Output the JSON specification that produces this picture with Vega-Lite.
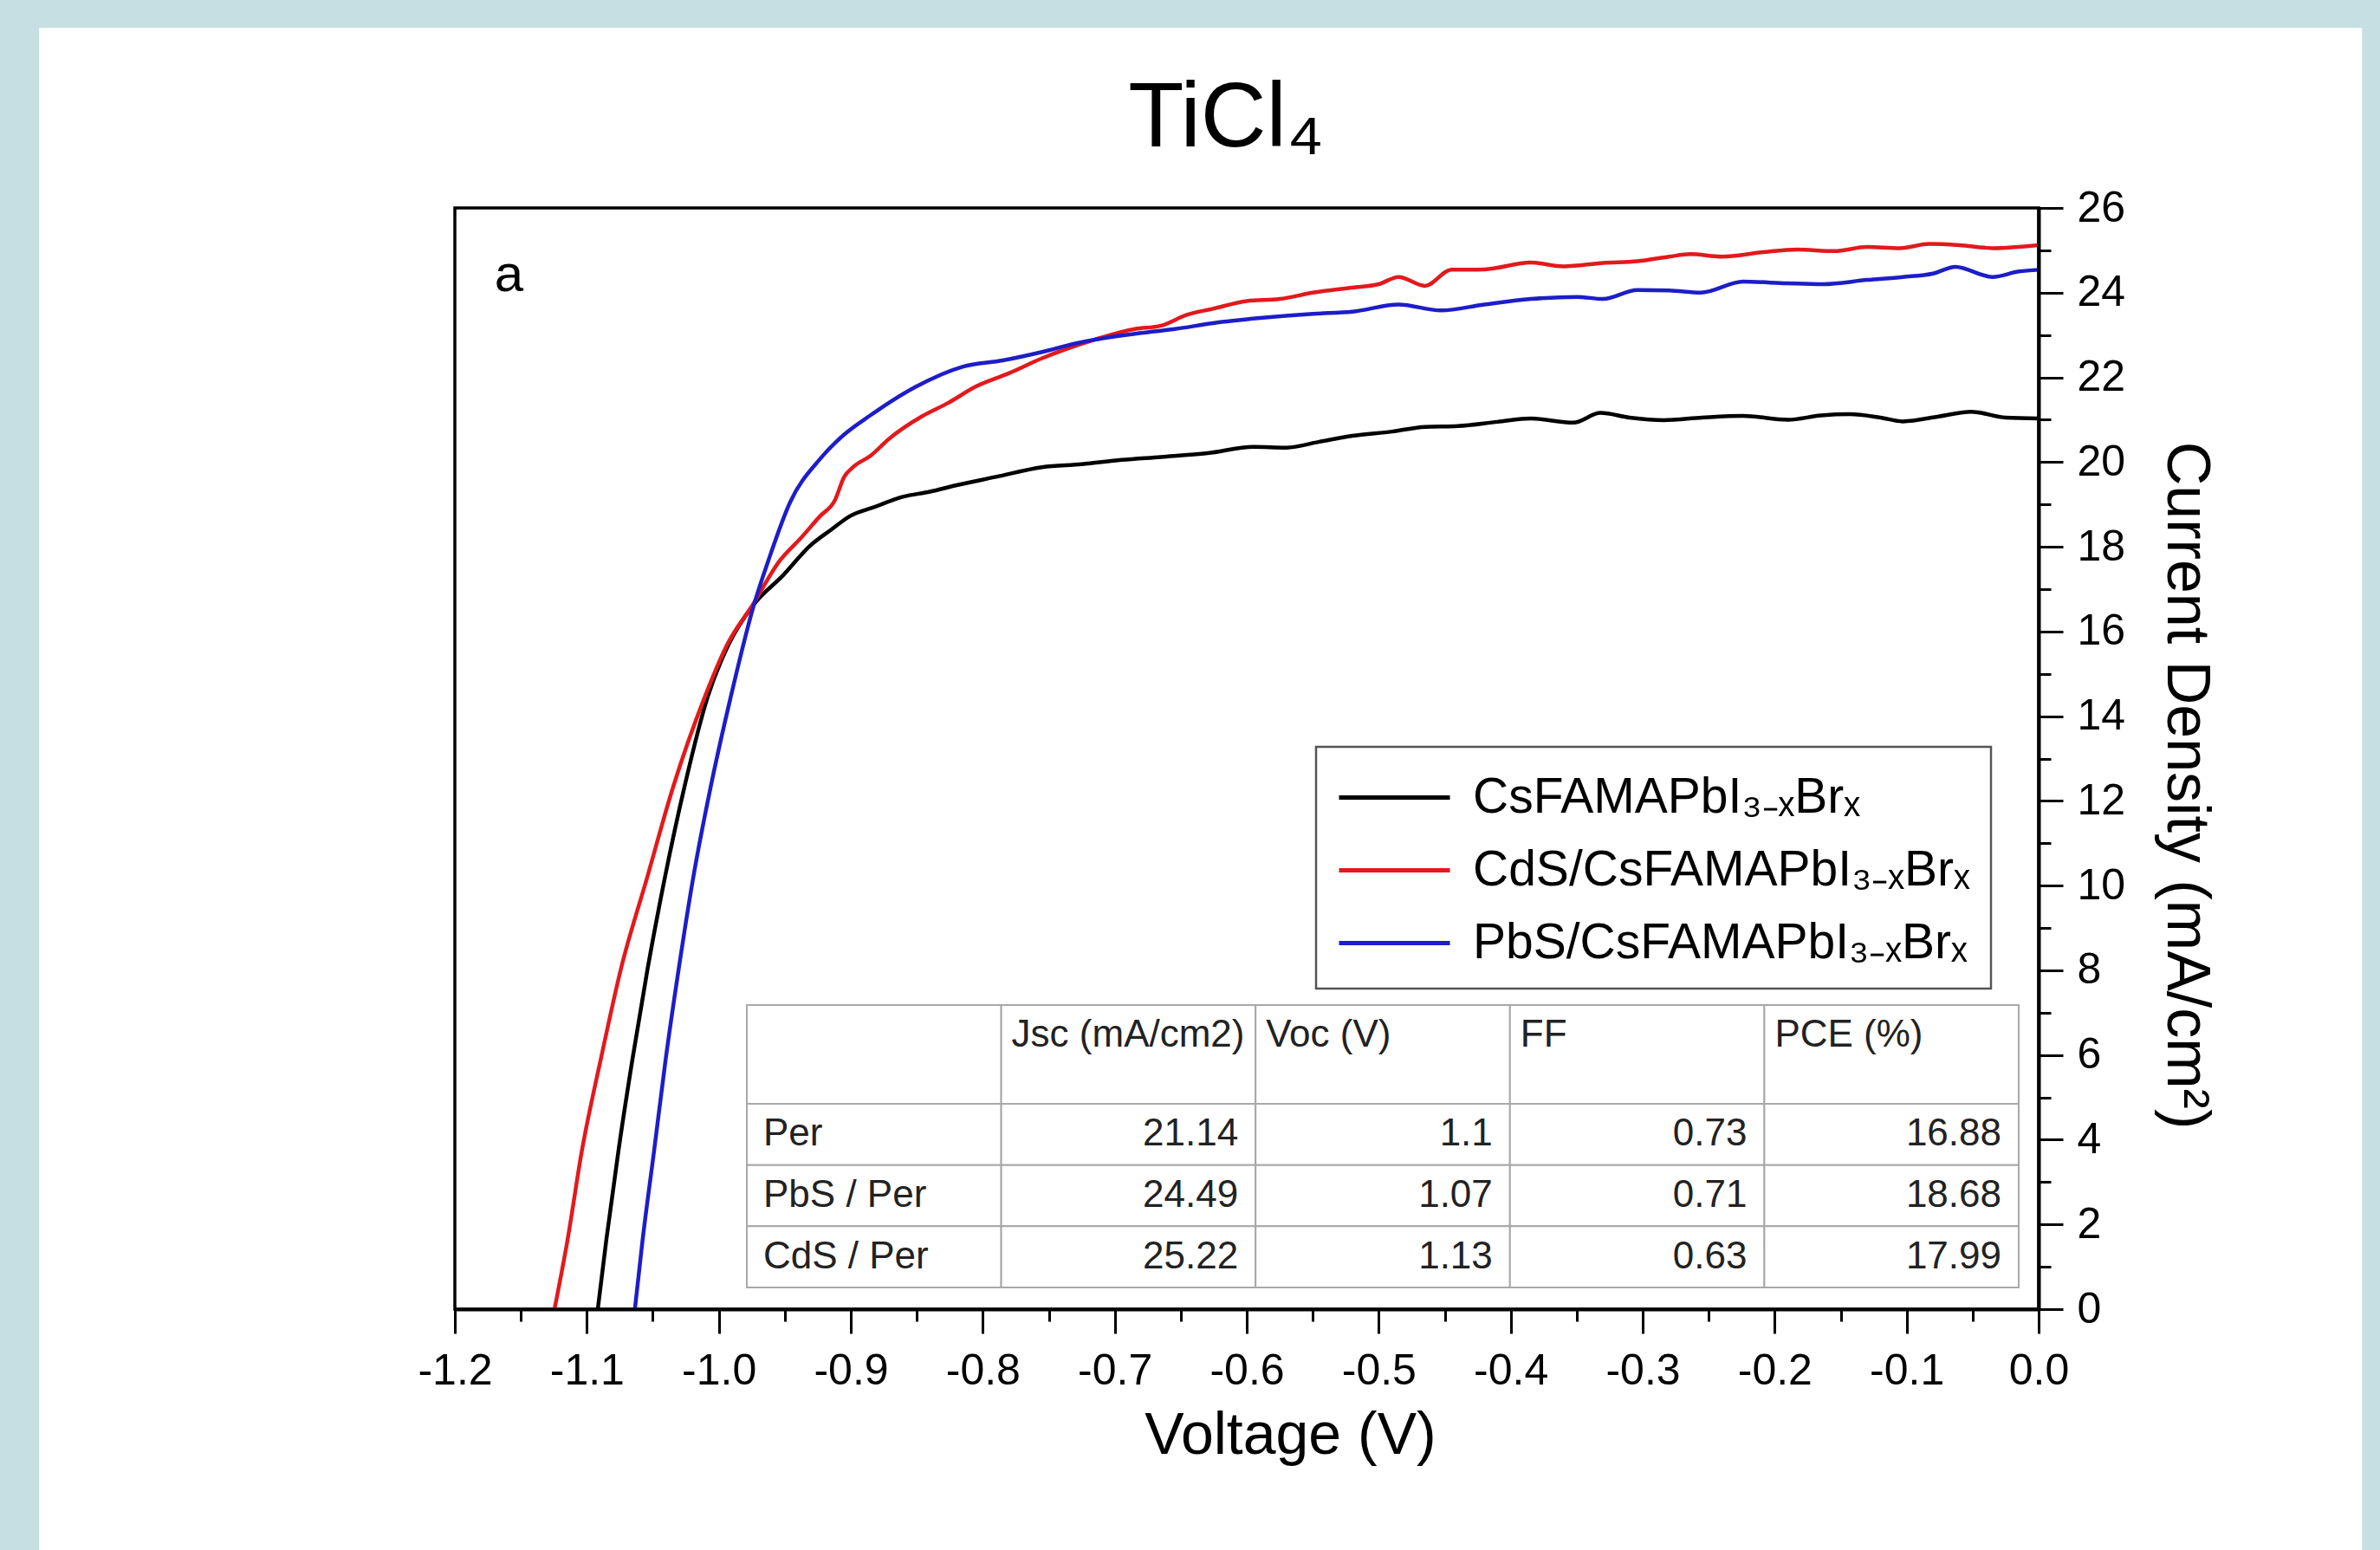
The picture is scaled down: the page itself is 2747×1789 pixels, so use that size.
{
  "$schema": "https://vega.github.io/schema/vega-lite/v6.json",
  "width": 1828,
  "height": 1271,
  "autosize": {"type": "none"},
  "padding": {"left": 525, "top": 240, "right": 394, "bottom": 278},
  "background": "#c6dfe2",
  "config": {"font": "Liberation Sans", "view": {"stroke": null}, "legend": {"strokeWidth": 2.5}},
  "title": {"text": "TiCl₄", "fontSize": 105, "font": "Liberation Sans", "fontWeight": "normal", "color": "black", "anchor": "middle", "frame": "group", "baseline": "alphabetic", "offset": -242, "dx": -24},
  "datasets": {
    "jv": [
      {"series": "CsFAMAPbI₃₋ₓBrₓ", "voltage": -1.0917, "current": 0},
      {"series": "CsFAMAPbI₃₋ₓBrₓ", "voltage": -1.0853, "current": 1.62},
      {"series": "CsFAMAPbI₃₋ₓBrₓ", "voltage": -1.076, "current": 3.75},
      {"series": "CsFAMAPbI₃₋ₓBrₓ", "voltage": -1.0655, "current": 5.89},
      {"series": "CsFAMAPbI₃₋ₓBrₓ", "voltage": -1.054, "current": 8.03},
      {"series": "CsFAMAPbI₃₋ₓBrₓ", "voltage": -1.041, "current": 10.17},
      {"series": "CsFAMAPbI₃₋ₓBrₓ", "voltage": -1.0262, "current": 12.31},
      {"series": "CsFAMAPbI₃₋ₓBrₓ", "voltage": -1.0085, "current": 14.45},
      {"series": "CsFAMAPbI₃₋ₓBrₓ", "voltage": -0.9925, "current": 15.7},
      {"series": "CsFAMAPbI₃₋ₓBrₓ", "voltage": -0.974, "current": 16.62},
      {"series": "CsFAMAPbI₃₋ₓBrₓ", "voltage": -0.9512, "current": 17.33},
      {"series": "CsFAMAPbI₃₋ₓBrₓ", "voltage": -0.931, "current": 18.02},
      {"series": "CsFAMAPbI₃₋ₓBrₓ", "voltage": -0.915, "current": 18.4},
      {"series": "CsFAMAPbI₃₋ₓBrₓ", "voltage": -0.9008, "current": 18.72},
      {"series": "CsFAMAPbI₃₋ₓBrₓ", "voltage": -0.882, "current": 18.94},
      {"series": "CsFAMAPbI₃₋ₓBrₓ", "voltage": -0.8606, "current": 19.18},
      {"series": "CsFAMAPbI₃₋ₓBrₓ", "voltage": -0.84, "current": 19.3},
      {"series": "CsFAMAPbI₃₋ₓBrₓ", "voltage": -0.8205, "current": 19.45},
      {"series": "CsFAMAPbI₃₋ₓBrₓ", "voltage": -0.79, "current": 19.65},
      {"series": "CsFAMAPbI₃₋ₓBrₓ", "voltage": -0.7551, "current": 19.88},
      {"series": "CsFAMAPbI₃₋ₓBrₓ", "voltage": -0.725, "current": 19.95},
      {"series": "CsFAMAPbI₃₋ₓBrₓ", "voltage": -0.695, "current": 20.05},
      {"series": "CsFAMAPbI₃₋ₓBrₓ", "voltage": -0.665, "current": 20.12},
      {"series": "CsFAMAPbI₃₋ₓBrₓ", "voltage": -0.6296, "current": 20.21},
      {"series": "CsFAMAPbI₃₋ₓBrₓ", "voltage": -0.595, "current": 20.36},
      {"series": "CsFAMAPbI₃₋ₓBrₓ", "voltage": -0.57, "current": 20.34},
      {"series": "CsFAMAPbI₃₋ₓBrₓ", "voltage": -0.545, "current": 20.48},
      {"series": "CsFAMAPbI₃₋ₓBrₓ", "voltage": -0.52, "current": 20.62},
      {"series": "CsFAMAPbI₃₋ₓBrₓ", "voltage": -0.49, "current": 20.72},
      {"series": "CsFAMAPbI₃₋ₓBrₓ", "voltage": -0.465, "current": 20.83},
      {"series": "CsFAMAPbI₃₋ₓBrₓ", "voltage": -0.44, "current": 20.85},
      {"series": "CsFAMAPbI₃₋ₓBrₓ", "voltage": -0.41, "current": 20.95},
      {"series": "CsFAMAPbI₃₋ₓBrₓ", "voltage": -0.385, "current": 21.03},
      {"series": "CsFAMAPbI₃₋ₓBrₓ", "voltage": -0.3525, "current": 20.93},
      {"series": "CsFAMAPbI₃₋ₓBrₓ", "voltage": -0.332, "current": 21.16},
      {"series": "CsFAMAPbI₃₋ₓBrₓ", "voltage": -0.31, "current": 21.05},
      {"series": "CsFAMAPbI₃₋ₓBrₓ", "voltage": -0.284, "current": 20.99},
      {"series": "CsFAMAPbI₃₋ₓBrₓ", "voltage": -0.255, "current": 21.05},
      {"series": "CsFAMAPbI₃₋ₓBrₓ", "voltage": -0.224, "current": 21.09},
      {"series": "CsFAMAPbI₃₋ₓBrₓ", "voltage": -0.19, "current": 21.0},
      {"series": "CsFAMAPbI₃₋ₓBrₓ", "voltage": -0.165, "current": 21.1},
      {"series": "CsFAMAPbI₃₋ₓBrₓ", "voltage": -0.143, "current": 21.13},
      {"series": "CsFAMAPbI₃₋ₓBrₓ", "voltage": -0.12, "current": 21.05},
      {"series": "CsFAMAPbI₃₋ₓBrₓ", "voltage": -0.103, "current": 20.96},
      {"series": "CsFAMAPbI₃₋ₓBrₓ", "voltage": -0.075, "current": 21.08},
      {"series": "CsFAMAPbI₃₋ₓBrₓ", "voltage": -0.051, "current": 21.19},
      {"series": "CsFAMAPbI₃₋ₓBrₓ", "voltage": -0.025, "current": 21.05},
      {"series": "CsFAMAPbI₃₋ₓBrₓ", "voltage": 0, "current": 21.03},
      {"series": "CdS/CsFAMAPbI₃₋ₓBrₓ", "voltage": -1.1245, "current": 0},
      {"series": "CdS/CsFAMAPbI₃₋ₓBrₓ", "voltage": -1.1147, "current": 1.62},
      {"series": "CdS/CsFAMAPbI₃₋ₓBrₓ", "voltage": -1.1037, "current": 3.75},
      {"series": "CdS/CsFAMAPbI₃₋ₓBrₓ", "voltage": -1.0895, "current": 5.89},
      {"series": "CdS/CsFAMAPbI₃₋ₓBrₓ", "voltage": -1.0742, "current": 8.03},
      {"series": "CdS/CsFAMAPbI₃₋ₓBrₓ", "voltage": -1.0545, "current": 10.17},
      {"series": "CdS/CsFAMAPbI₃₋ₓBrₓ", "voltage": -1.0348, "current": 12.31},
      {"series": "CdS/CsFAMAPbI₃₋ₓBrₓ", "voltage": -1.0107, "current": 14.45},
      {"series": "CdS/CsFAMAPbI₃₋ₓBrₓ", "voltage": -0.9935, "current": 15.7},
      {"series": "CdS/CsFAMAPbI₃₋ₓBrₓ", "voltage": -0.9745, "current": 16.62},
      {"series": "CdS/CsFAMAPbI₃₋ₓBrₓ", "voltage": -0.9536, "current": 17.68},
      {"series": "CdS/CsFAMAPbI₃₋ₓBrₓ", "voltage": -0.938, "current": 18.2},
      {"series": "CdS/CsFAMAPbI₃₋ₓBrₓ", "voltage": -0.9234, "current": 18.72},
      {"series": "CdS/CsFAMAPbI₃₋ₓBrₓ", "voltage": -0.912, "current": 19.1},
      {"series": "CdS/CsFAMAPbI₃₋ₓBrₓ", "voltage": -0.905, "current": 19.65},
      {"series": "CdS/CsFAMAPbI₃₋ₓBrₓ", "voltage": -0.8983, "current": 19.88},
      {"series": "CdS/CsFAMAPbI₃₋ₓBrₓ", "voltage": -0.885, "current": 20.15},
      {"series": "CdS/CsFAMAPbI₃₋ₓBrₓ", "voltage": -0.8706, "current": 20.56},
      {"series": "CdS/CsFAMAPbI₃₋ₓBrₓ", "voltage": -0.8455, "current": 21.09},
      {"series": "CdS/CsFAMAPbI₃₋ₓBrₓ", "voltage": -0.826, "current": 21.4},
      {"series": "CdS/CsFAMAPbI₃₋ₓBrₓ", "voltage": -0.8055, "current": 21.78},
      {"series": "CdS/CsFAMAPbI₃₋ₓBrₓ", "voltage": -0.78, "current": 22.1},
      {"series": "CdS/CsFAMAPbI₃₋ₓBrₓ", "voltage": -0.7551, "current": 22.45},
      {"series": "CdS/CsFAMAPbI₃₋ₓBrₓ", "voltage": -0.7174, "current": 22.87},
      {"series": "CdS/CsFAMAPbI₃₋ₓBrₓ", "voltage": -0.6847, "current": 23.14},
      {"series": "CdS/CsFAMAPbI₃₋ₓBrₓ", "voltage": -0.665, "current": 23.22},
      {"series": "CdS/CsFAMAPbI₃₋ₓBrₓ", "voltage": -0.645, "current": 23.48},
      {"series": "CdS/CsFAMAPbI₃₋ₓBrₓ", "voltage": -0.6256, "current": 23.62},
      {"series": "CdS/CsFAMAPbI₃₋ₓBrₓ", "voltage": -0.6, "current": 23.8},
      {"series": "CdS/CsFAMAPbI₃₋ₓBrₓ", "voltage": -0.575, "current": 23.85},
      {"series": "CdS/CsFAMAPbI₃₋ₓBrₓ", "voltage": -0.55, "current": 24.0},
      {"series": "CdS/CsFAMAPbI₃₋ₓBrₓ", "voltage": -0.52, "current": 24.12},
      {"series": "CdS/CsFAMAPbI₃₋ₓBrₓ", "voltage": -0.5, "current": 24.2},
      {"series": "CdS/CsFAMAPbI₃₋ₓBrₓ", "voltage": -0.485, "current": 24.37},
      {"series": "CdS/CsFAMAPbI₃₋ₓBrₓ", "voltage": -0.465, "current": 24.16},
      {"series": "CdS/CsFAMAPbI₃₋ₓBrₓ", "voltage": -0.445, "current": 24.54},
      {"series": "CdS/CsFAMAPbI₃₋ₓBrₓ", "voltage": -0.42, "current": 24.55},
      {"series": "CdS/CsFAMAPbI₃₋ₓBrₓ", "voltage": -0.385, "current": 24.71},
      {"series": "CdS/CsFAMAPbI₃₋ₓBrₓ", "voltage": -0.36, "current": 24.62},
      {"series": "CdS/CsFAMAPbI₃₋ₓBrₓ", "voltage": -0.33, "current": 24.7},
      {"series": "CdS/CsFAMAPbI₃₋ₓBrₓ", "voltage": -0.304, "current": 24.74},
      {"series": "CdS/CsFAMAPbI₃₋ₓBrₓ", "voltage": -0.28, "current": 24.85},
      {"series": "CdS/CsFAMAPbI₃₋ₓBrₓ", "voltage": -0.264, "current": 24.91},
      {"series": "CdS/CsFAMAPbI₃₋ₓBrₓ", "voltage": -0.24, "current": 24.85},
      {"series": "CdS/CsFAMAPbI₃₋ₓBrₓ", "voltage": -0.21, "current": 24.95},
      {"series": "CdS/CsFAMAPbI₃₋ₓBrₓ", "voltage": -0.183, "current": 25.02},
      {"series": "CdS/CsFAMAPbI₃₋ₓBrₓ", "voltage": -0.155, "current": 24.98},
      {"series": "CdS/CsFAMAPbI₃₋ₓBrₓ", "voltage": -0.13, "current": 25.08},
      {"series": "CdS/CsFAMAPbI₃₋ₓBrₓ", "voltage": -0.105, "current": 25.05},
      {"series": "CdS/CsFAMAPbI₃₋ₓBrₓ", "voltage": -0.083, "current": 25.15},
      {"series": "CdS/CsFAMAPbI₃₋ₓBrₓ", "voltage": -0.06, "current": 25.12},
      {"series": "CdS/CsFAMAPbI₃₋ₓBrₓ", "voltage": -0.035, "current": 25.05},
      {"series": "CdS/CsFAMAPbI₃₋ₓBrₓ", "voltage": 0, "current": 25.12},
      {"series": "PbS/CsFAMAPbI₃₋ₓBrₓ", "voltage": -1.0636, "current": 0},
      {"series": "PbS/CsFAMAPbI₃₋ₓBrₓ", "voltage": -1.0578, "current": 1.62},
      {"series": "PbS/CsFAMAPbI₃₋ₓBrₓ", "voltage": -1.049, "current": 3.75},
      {"series": "PbS/CsFAMAPbI₃₋ₓBrₓ", "voltage": -1.0403, "current": 5.89},
      {"series": "PbS/CsFAMAPbI₃₋ₓBrₓ", "voltage": -1.0304, "current": 8.03},
      {"series": "PbS/CsFAMAPbI₃₋ₓBrₓ", "voltage": -1.0195, "current": 10.17},
      {"series": "PbS/CsFAMAPbI₃₋ₓBrₓ", "voltage": -1.0063, "current": 12.31},
      {"series": "PbS/CsFAMAPbI₃₋ₓBrₓ", "voltage": -0.991, "current": 14.45},
      {"series": "PbS/CsFAMAPbI₃₋ₓBrₓ", "voltage": -0.9735, "current": 16.62},
      {"series": "PbS/CsFAMAPbI₃₋ₓBrₓ", "voltage": -0.9624, "current": 17.68},
      {"series": "PbS/CsFAMAPbI₃₋ₓBrₓ", "voltage": -0.946, "current": 19.05},
      {"series": "PbS/CsFAMAPbI₃₋ₓBrₓ", "voltage": -0.9234, "current": 20.07},
      {"series": "PbS/CsFAMAPbI₃₋ₓBrₓ", "voltage": -0.905, "current": 20.65},
      {"series": "PbS/CsFAMAPbI₃₋ₓBrₓ", "voltage": -0.8858, "current": 21.09},
      {"series": "PbS/CsFAMAPbI₃₋ₓBrₓ", "voltage": -0.8506, "current": 21.78},
      {"series": "PbS/CsFAMAPbI₃₋ₓBrₓ", "voltage": -0.8154, "current": 22.25},
      {"series": "PbS/CsFAMAPbI₃₋ₓBrₓ", "voltage": -0.785, "current": 22.4},
      {"series": "PbS/CsFAMAPbI₃₋ₓBrₓ", "voltage": -0.7551, "current": 22.6},
      {"series": "PbS/CsFAMAPbI₃₋ₓBrₓ", "voltage": -0.73, "current": 22.8},
      {"series": "PbS/CsFAMAPbI₃₋ₓBrₓ", "voltage": -0.705, "current": 22.94},
      {"series": "PbS/CsFAMAPbI₃₋ₓBrₓ", "voltage": -0.68, "current": 23.05},
      {"series": "PbS/CsFAMAPbI₃₋ₓBrₓ", "voltage": -0.6546, "current": 23.14},
      {"series": "PbS/CsFAMAPbI₃₋ₓBrₓ", "voltage": -0.6256, "current": 23.28},
      {"series": "PbS/CsFAMAPbI₃₋ₓBrₓ", "voltage": -0.59, "current": 23.4},
      {"series": "PbS/CsFAMAPbI₃₋ₓBrₓ", "voltage": -0.55, "current": 23.5},
      {"series": "PbS/CsFAMAPbI₃₋ₓBrₓ", "voltage": -0.52, "current": 23.55},
      {"series": "PbS/CsFAMAPbI₃₋ₓBrₓ", "voltage": -0.485, "current": 23.72},
      {"series": "PbS/CsFAMAPbI₃₋ₓBrₓ", "voltage": -0.453, "current": 23.58},
      {"series": "PbS/CsFAMAPbI₃₋ₓBrₓ", "voltage": -0.42, "current": 23.72},
      {"series": "PbS/CsFAMAPbI₃₋ₓBrₓ", "voltage": -0.3847, "current": 23.85},
      {"series": "PbS/CsFAMAPbI₃₋ₓBrₓ", "voltage": -0.35, "current": 23.9},
      {"series": "PbS/CsFAMAPbI₃₋ₓBrₓ", "voltage": -0.33, "current": 23.85},
      {"series": "PbS/CsFAMAPbI₃₋ₓBrₓ", "voltage": -0.304, "current": 24.06},
      {"series": "PbS/CsFAMAPbI₃₋ₓBrₓ", "voltage": -0.28, "current": 24.05},
      {"series": "PbS/CsFAMAPbI₃₋ₓBrₓ", "voltage": -0.256, "current": 24.0},
      {"series": "PbS/CsFAMAPbI₃₋ₓBrₓ", "voltage": -0.224, "current": 24.26},
      {"series": "PbS/CsFAMAPbI₃₋ₓBrₓ", "voltage": -0.19, "current": 24.22},
      {"series": "PbS/CsFAMAPbI₃₋ₓBrₓ", "voltage": -0.1635, "current": 24.2},
      {"series": "PbS/CsFAMAPbI₃₋ₓBrₓ", "voltage": -0.13, "current": 24.3},
      {"series": "PbS/CsFAMAPbI₃₋ₓBrₓ", "voltage": -0.103, "current": 24.37},
      {"series": "PbS/CsFAMAPbI₃₋ₓBrₓ", "voltage": -0.08, "current": 24.45},
      {"series": "PbS/CsFAMAPbI₃₋ₓBrₓ", "voltage": -0.063, "current": 24.61},
      {"series": "PbS/CsFAMAPbI₃₋ₓBrₓ", "voltage": -0.035, "current": 24.37},
      {"series": "PbS/CsFAMAPbI₃₋ₓBrₓ", "voltage": -0.015, "current": 24.5},
      {"series": "PbS/CsFAMAPbI₃₋ₓBrₓ", "voltage": 0, "current": 24.54}
    ],
    "table": [
      {"row": "head", "col": "name", "text": ""},
      {"row": "head", "col": "Jsc", "text": "Jsc (mA/cm2)"},
      {"row": "head", "col": "Voc", "text": "Voc (V)"},
      {"row": "head", "col": "FF", "text": "FF"},
      {"row": "head", "col": "PCE", "text": "PCE (%)"},
      {"row": "Per", "col": "name", "text": "Per"},
      {"row": "Per", "col": "Jsc", "text": "21.14"},
      {"row": "Per", "col": "Voc", "text": "1.1"},
      {"row": "Per", "col": "FF", "text": "0.73"},
      {"row": "Per", "col": "PCE", "text": "16.88"},
      {"row": "PbS / Per", "col": "name", "text": "PbS / Per"},
      {"row": "PbS / Per", "col": "Jsc", "text": "24.49"},
      {"row": "PbS / Per", "col": "Voc", "text": "1.07"},
      {"row": "PbS / Per", "col": "FF", "text": "0.71"},
      {"row": "PbS / Per", "col": "PCE", "text": "18.68"},
      {"row": "CdS / Per", "col": "name", "text": "CdS / Per"},
      {"row": "CdS / Per", "col": "Jsc", "text": "25.22"},
      {"row": "CdS / Per", "col": "Voc", "text": "1.13"},
      {"row": "CdS / Per", "col": "FF", "text": "0.63"},
      {"row": "CdS / Per", "col": "PCE", "text": "17.99"}
    ]
  },
  "layer": [
    {
      "layer": [
        {
          "data": {"values": [{}]},
          "mark": {"type": "rect", "fill": "white", "clip": false},
          "encoding": {
            "x": {"datum": -1.515, "type": "quantitative", "scale": {"domain": [-1.2, 0], "nice": false, "zero": false}},
            "x2": {"datum": 0.245},
            "y": {"datum": -7, "type": "quantitative", "scale": {"domain": [0, 26], "nice": false, "zero": false}},
            "y2": {"datum": 30.25}
          }
        },
        {
          "data": {"values": [{}]},
          "mark": {"type": "rect", "fill": "white", "fillOpacity": 0, "stroke": "black", "strokeWidth": 3.5},
          "encoding": {
            "x": {"datum": -1.2, "type": "quantitative", "scale": {"domain": [-1.2, 0], "nice": false, "zero": false}},
            "x2": {"datum": 0},
            "y": {"datum": 0, "type": "quantitative", "scale": {"domain": [0, 26], "nice": false, "zero": false}},
            "y2": {"datum": 26}
          }
        },
        {
          "data": {"name": "jv"},
          "mark": {"type": "line", "strokeWidth": 4.5, "interpolate": "monotone"},
          "encoding": {
            "x": {
              "field": "voltage", "type": "quantitative",
              "scale": {"domain": [-1.2, 0], "nice": false, "zero": false},
              "axis": {
                "title": "Voltage (V)", "orient": "bottom", "zindex": 1, "grid": false,
                "values": [-1.2, -1.15, -1.1, -1.05, -1, -0.95, -0.9, -0.85, -0.8, -0.75, -0.7, -0.65, -0.6, -0.55, -0.5, -0.45, -0.4, -0.35, -0.3, -0.25, -0.2, -0.15, -0.1, -0.05, 0],
                "labelExpr": "abs(round(datum.value*20)) % 2 == 0 ? replace(format(datum.value, '.1f'), '−', '-') : ''",
                "tickSize": 28,
                "tickDash": {"condition": {"test": "abs(round(datum.value*20)) % 2 == 1", "value": [14, 100]}, "value": [100, 0]},
                "tickWidth": 3, "tickColor": "black", "domainWidth": 4, "domainColor": "black",
                "labelFontSize": 50, "labelColor": "black", "labelPadding": 18, "labelFlush": false, "labelOverlap": false,
                "titleFontSize": 68, "titleFontWeight": "normal", "titleColor": "black", "titlePadding": 16, "titleX": 964
              }
            },
            "y": {
              "field": "current", "type": "quantitative",
              "scale": {"domain": [0, 26], "nice": false, "zero": false},
              "axis": {
                "title": "Current Density (mA/cm²)", "orient": "right", "zindex": 1, "grid": false,
                "values": [0, 1, 2, 3, 4, 5, 6, 7, 8, 9, 10, 11, 12, 13, 14, 15, 16, 17, 18, 19, 20, 21, 22, 23, 24, 25, 26],
                "labelExpr": "datum.value % 2 == 0 ? datum.label : ''",
                "tickSize": 28,
                "tickDash": {"condition": {"test": "datum.value % 2 == 1", "value": [14, 100]}, "value": [100, 0]},
                "tickWidth": 3, "tickColor": "black", "domainWidth": 4, "domainColor": "black",
                "labelFontSize": 50, "labelColor": "black", "labelPadding": 16, "labelFlush": false, "labelOverlap": false,
                "titleFontSize": 70, "titleFontWeight": "normal", "titleColor": "black", "titlePadding": 34, "titleAngle": 90, "titleY": 666
              }
            },
            "color": {
              "field": "series", "type": "nominal",
              "scale": {"domain": ["CsFAMAPbI₃₋ₓBrₓ", "CdS/CsFAMAPbI₃₋ₓBrₓ", "PbS/CsFAMAPbI₃₋ₓBrₓ"], "range": ["#000000", "#e3191c", "#1d1dc9"]},
              "legend": {
                "title": null, "orient": "none", "legendX": 994, "legendY": 622, "direction": "vertical",
                "symbolType": "M-1,0H3", "symbolStrokeWidth": 5, "symbolSize": 4096,
                "labelFontSize": 57, "labelColor": "black", "labelFont": "Liberation Sans", "labelLimit": 0,
                "labelOffset": 88, "rowPadding": 21, "padding": 24,
                "strokeColor": "#555555", "fillColor": "white"
              }
            }
          }
        },
        {
          "data": {"values": [{"label": "a"}]},
          "mark": {"type": "text", "fontSize": 60, "align": "center", "baseline": "alphabetic", "color": "black"},
          "encoding": {
            "text": {"field": "label"},
            "x": {"datum": -1.159, "type": "quantitative", "scale": {"domain": [-1.2, 0], "nice": false, "zero": false}},
            "y": {"datum": 24.04, "type": "quantitative", "scale": {"domain": [0, 26], "nice": false, "zero": false}}
          }
        }
      ]
    },
    {
      "data": {"name": "table"},
      "layer": [
        {
          "transform": [{"filter": "datum.row == 'head'"}],
          "layer": [
            {
              "mark": {"type": "rect", "fill": "white", "stroke": "#a8a8a8", "strokeWidth": 2},
              "encoding": {
                "x": {"field": "col", "type": "nominal", "scale": {"type": "band", "domain": ["name", "Jsc", "Voc", "FF", "PCE"], "range": [337, 1805], "paddingInner": 0, "paddingOuter": 0}, "axis": null},
                "y": {"field": "row", "type": "nominal", "scale": {"type": "band", "domain": ["head"], "range": [920, 1034], "paddingInner": 0, "paddingOuter": 0}, "axis": null}
              }
            },
            {
              "mark": {"type": "text", "align": "left", "baseline": "middle", "dx": 12, "dy": -22, "fontSize": 44, "color": "#222222"},
              "encoding": {
                "x": {"field": "col", "type": "nominal", "bandPosition": 0, "scale": {"type": "band", "domain": ["name", "Jsc", "Voc", "FF", "PCE"], "range": [337, 1805], "paddingInner": 0, "paddingOuter": 0}, "axis": null},
                "y": {"field": "row", "type": "nominal", "scale": {"type": "band", "domain": ["head"], "range": [920, 1034], "paddingInner": 0, "paddingOuter": 0}, "axis": null},
                "text": {"field": "text"}
              }
            }
          ]
        },
        {
          "transform": [{"filter": "datum.row != 'head'"}],
          "layer": [
            {
              "mark": {"type": "rect", "fill": "white", "stroke": "#a8a8a8", "strokeWidth": 2},
              "encoding": {
                "x": {"field": "col", "type": "nominal", "scale": {"type": "band", "domain": ["name", "Jsc", "Voc", "FF", "PCE"], "range": [337, 1805], "paddingInner": 0, "paddingOuter": 0}, "axis": null},
                "y": {"field": "row", "type": "nominal", "scale": {"type": "band", "domain": ["Per", "PbS / Per", "CdS / Per"], "range": [1034, 1246], "paddingInner": 0, "paddingOuter": 0}, "axis": null}
              }
            },
            {
              "transform": [{"filter": "datum.col == 'name'"}],
              "mark": {"type": "text", "align": "left", "baseline": "middle", "dx": 19, "fontSize": 44, "color": "#222222"},
              "encoding": {
                "x": {"field": "col", "type": "nominal", "bandPosition": 0, "scale": {"type": "band", "domain": ["name", "Jsc", "Voc", "FF", "PCE"], "range": [337, 1805], "paddingInner": 0, "paddingOuter": 0}, "axis": null},
                "y": {"field": "row", "type": "nominal", "scale": {"type": "band", "domain": ["Per", "PbS / Per", "CdS / Per"], "range": [1034, 1246], "paddingInner": 0, "paddingOuter": 0}, "axis": null},
                "text": {"field": "text"}
              }
            },
            {
              "transform": [{"filter": "datum.col != 'name'"}],
              "mark": {"type": "text", "align": "right", "baseline": "middle", "dx": -20, "fontSize": 44, "color": "#222222"},
              "encoding": {
                "x": {"field": "col", "type": "nominal", "bandPosition": 1, "scale": {"type": "band", "domain": ["name", "Jsc", "Voc", "FF", "PCE"], "range": [337, 1805], "paddingInner": 0, "paddingOuter": 0}, "axis": null},
                "y": {"field": "row", "type": "nominal", "scale": {"type": "band", "domain": ["Per", "PbS / Per", "CdS / Per"], "range": [1034, 1246], "paddingInner": 0, "paddingOuter": 0}, "axis": null},
                "text": {"field": "text"}
              }
            }
          ]
        }
      ],
      "resolve": {"scale": {"y": "independent"}}
    }
  ],
  "resolve": {"scale": {"x": "independent", "y": "independent"}}
}
